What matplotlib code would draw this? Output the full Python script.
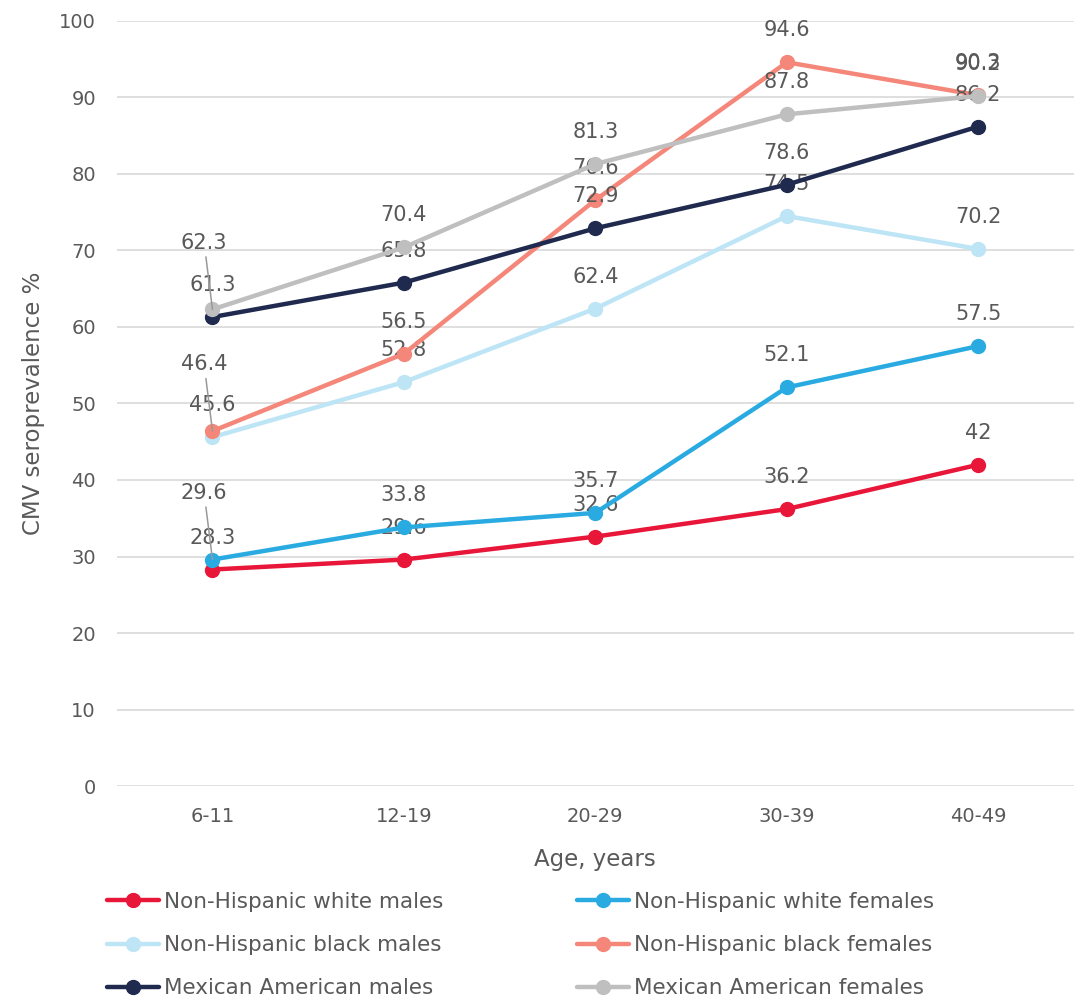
import matplotlib
matplotlib.use("Agg")
import matplotlib.pyplot as plt

# Data: CMV seroprevalence (%) by age group
age_groups = ["6-11", "12-19", "20-29", "30-39", "40-49"]
series_names = [
    "Non-Hispanic white males",
    "Non-Hispanic white females",
    "Non-Hispanic black males",
    "Non-Hispanic black females",
    "Mexican American males",
    "Mexican American females",
]
nh_white_males = [28.3, 29.6, 32.6, 36.2, 42]
nh_white_females = [29.6, 33.8, 35.7, 52.1, 57.5]
nh_black_males = [45.6, 52.8, 62.4, 74.5, 70.2]
nh_black_females = [46.4, 56.5, 76.6, 94.6, 90.3]
mex_american_males = [61.3, 65.8, 72.9, 78.6, 86.2]
mex_american_females = [62.3, 70.4, 81.3, 87.8, 90.2]

all_series = [nh_white_males, nh_white_females, nh_black_males,
              nh_black_females, mex_american_males, mex_american_females]
colors = ["#E8173A", "#29ABE2", "#BDE5F6", "#F4877A", "#1F2A4E", "#BFBFBF"]

TEXT = "#595959"
plt.rcParams["font.family"] = ["DejaVu Sans"]

fig = plt.figure(figsize=(10.81, 9.99), dpi=100)
ax = fig.add_axes([0.108, 0.2132, 0.8855, 0.7658])

x = list(range(len(age_groups)))
lines = []
for i, (vals, col, name) in enumerate(zip(all_series, colors, series_names)):
    ln, = ax.plot(x, vals, color=col, lw=3.2, marker="o", markersize=10,
                  solid_capstyle="round", label=name, zorder=3 + i)
    lines.append(ln)

# Data labels; a few crowded ones at the first age group are lifted with a leader line
lifted = {(5, 0), (3, 0), (1, 0)}
for i, vals in enumerate(all_series):
    for j, v in enumerate(vals):
        txt = f"{v:g}"
        if (i, j) in lifted:
            ax.annotate(txt, (x[j], v), xytext=(-6, 48), textcoords="offset points",
                        ha="center", va="center", fontsize=15, color=TEXT,
                        zorder=3.5 + i,
                        arrowprops=dict(arrowstyle="-", color="#999999", lw=1.1,
                                        shrinkA=1, shrinkB=0))
        else:
            ax.annotate(txt, (x[j], v), xytext=(0, 23), textcoords="offset points",
                        ha="center", va="center", fontsize=15, color=TEXT,
                        zorder=3.5 + i)

ax.set_xlim(-0.5, len(age_groups) - 0.5)
ax.set_ylim(0, 100)
ax.set_yticks(range(0, 101, 10))
ax.set_xticks(x)
ax.set_xticklabels(age_groups)
ax.tick_params(axis="both", length=0, labelsize=14, colors=TEXT)
ax.tick_params(axis="y", pad=15)
ax.tick_params(axis="x", pad=15)
ax.grid(axis="y", color="#D9D9D9", lw=1.2)
ax.set_axisbelow(True)
for s in ax.spines.values():
    s.set_visible(False)

ax.set_ylabel("CMV seroprevalence %", fontsize=16.5, color=TEXT, labelpad=10)
ax.set_xlabel("Age, years", fontsize=16.5, color=TEXT, labelpad=16)

legend_kw = dict(frameon=False, fontsize=15.5, handlelength=2.4,
                 handletextpad=0.25, labelspacing=1.07, borderpad=0,
                 borderaxespad=0, loc="upper left", labelcolor=TEXT)
leg1 = fig.legend(handles=[lines[0], lines[2], lines[4]],
                  bbox_to_anchor=(107 / 1081, 1 - 892 / 999), **legend_kw)
leg2 = fig.legend(handles=[lines[1], lines[3], lines[5]],
                  bbox_to_anchor=(577 / 1081, 1 - 892 / 999), **legend_kw)

fig.savefig("out.png", dpi=100)
